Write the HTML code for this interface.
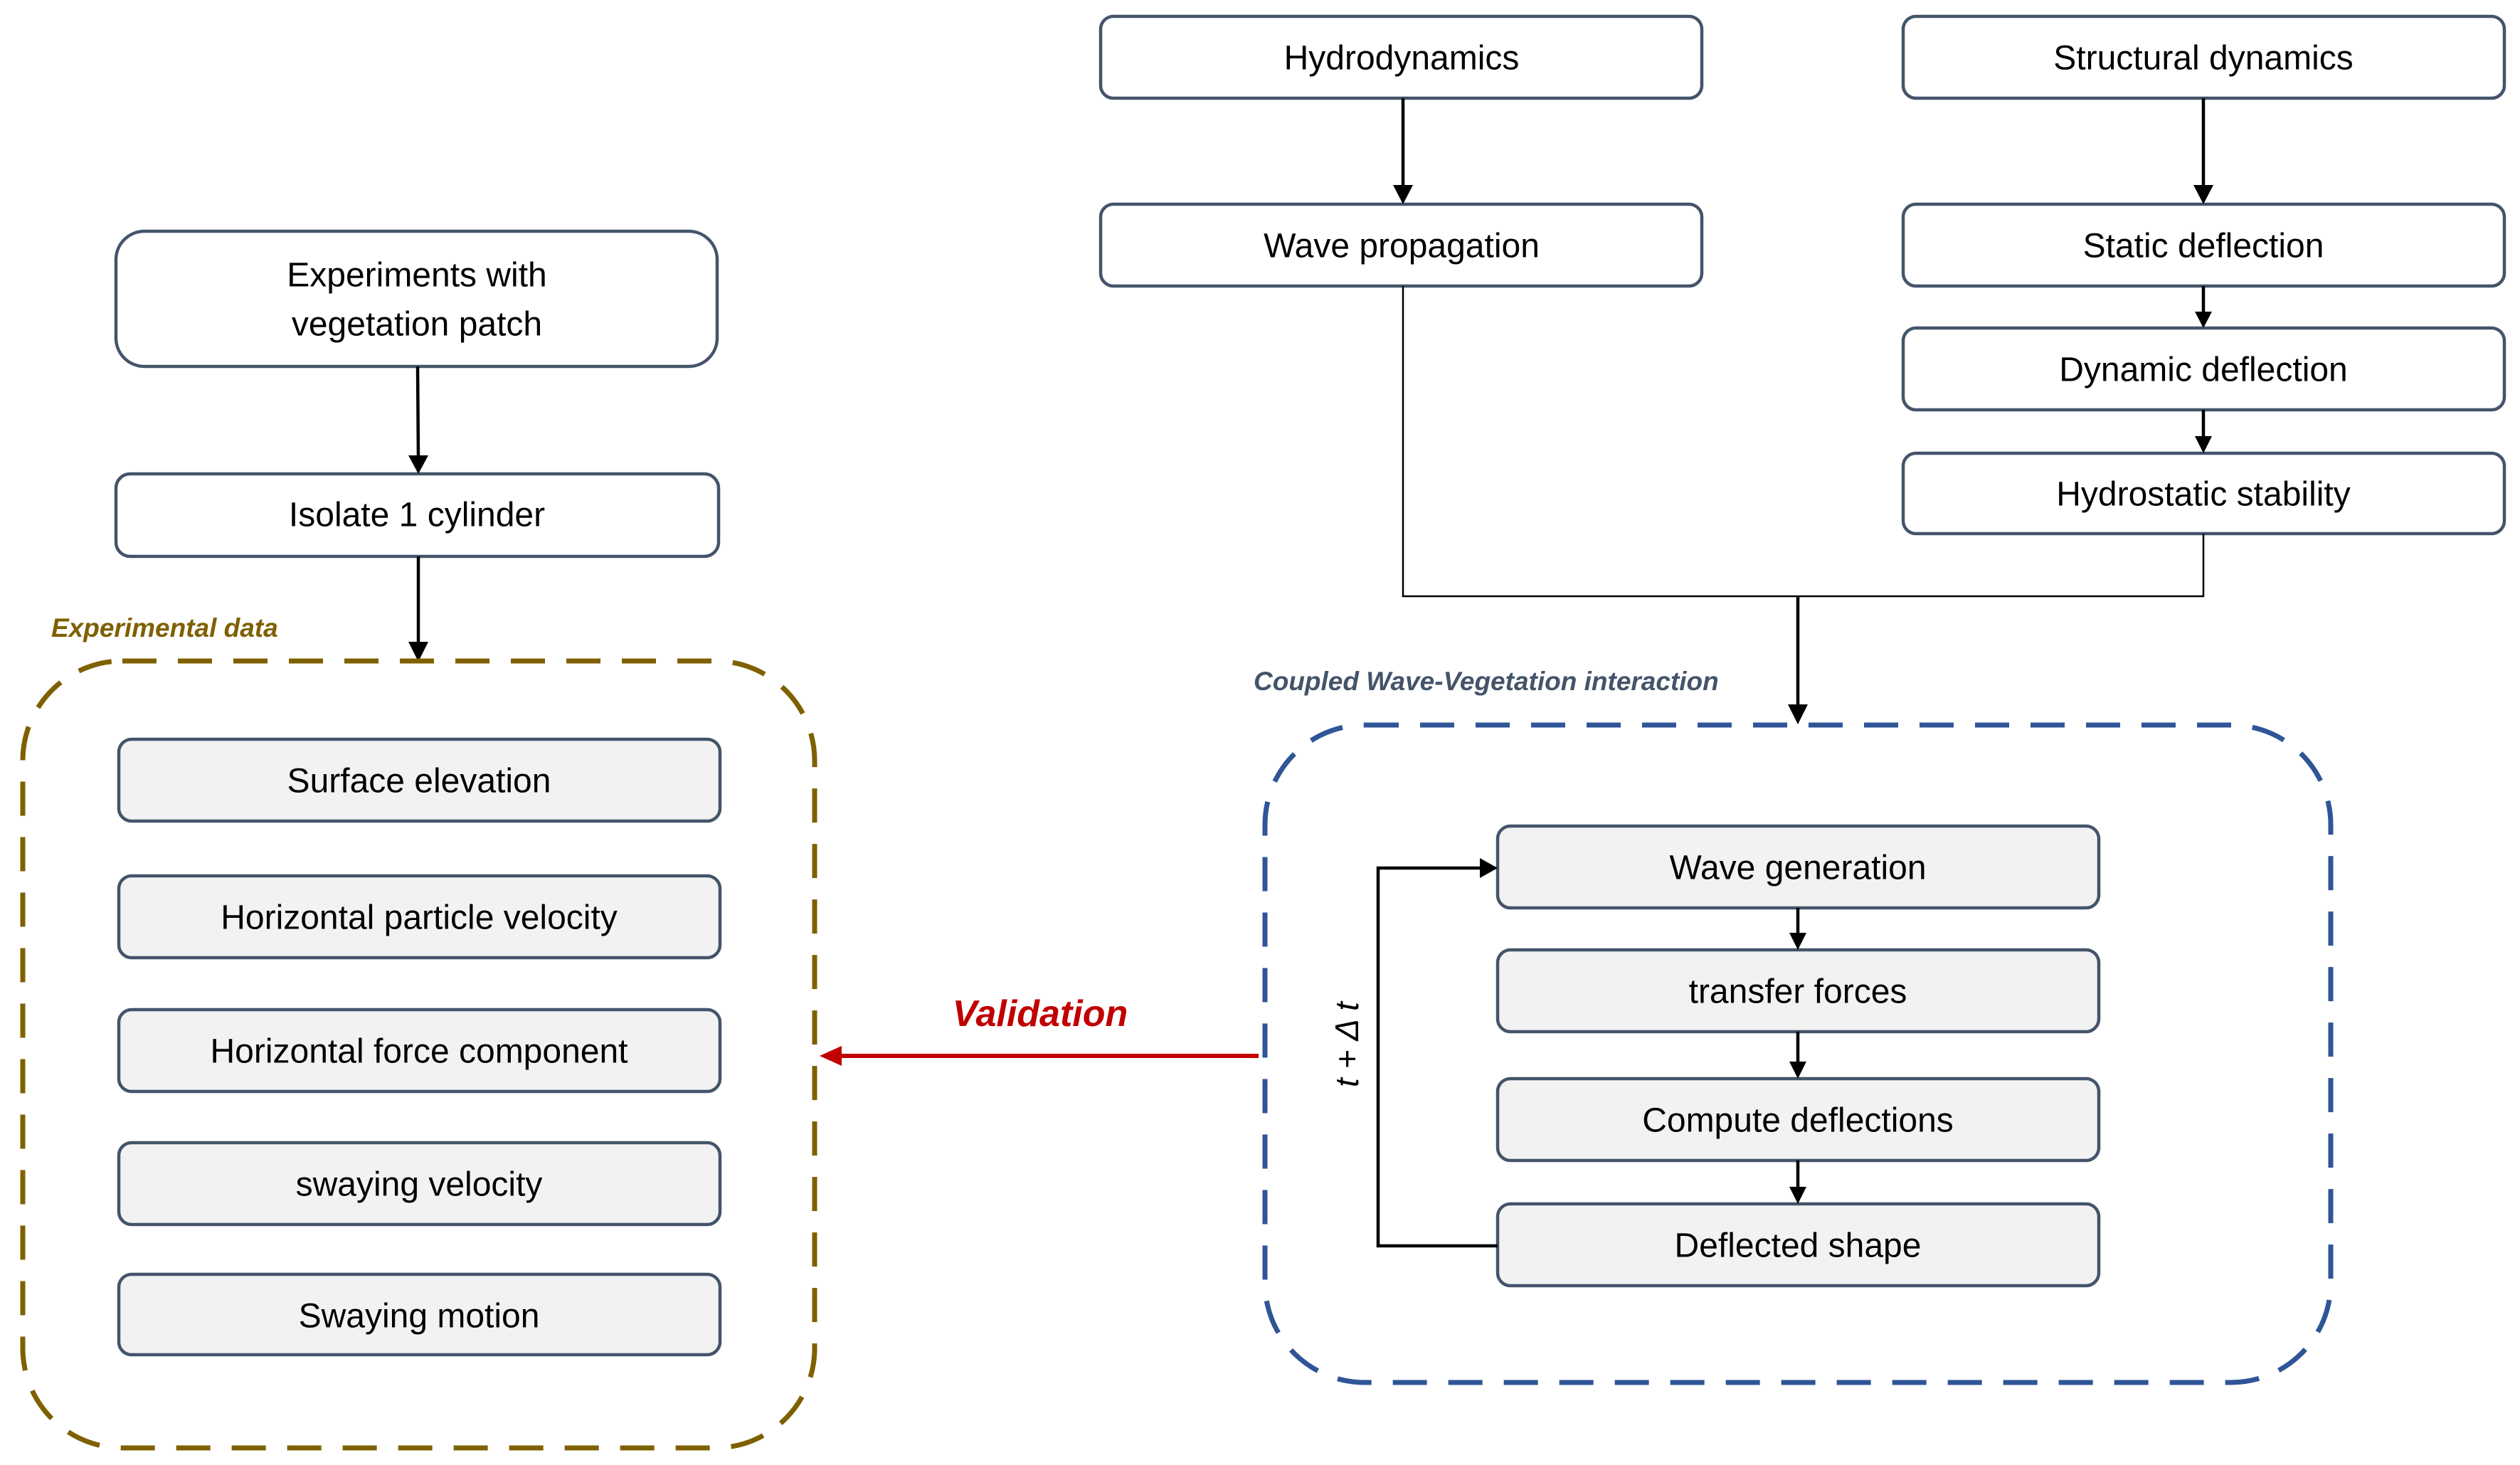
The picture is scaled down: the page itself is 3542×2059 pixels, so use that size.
<!DOCTYPE html>
<html><head><meta charset="utf-8"><style>
html,body{margin:0;padding:0;background:#fff;}
svg{display:block;}
text{font-family:"Liberation Sans",sans-serif;}
.t{font-size:48px;fill:#000;text-anchor:middle;dominant-baseline:central;}
.b{fill:#fff;stroke:#44546a;stroke-width:4.5;}
.g{fill:#f2f2f2;stroke:#44546a;stroke-width:4.5;}
.l{stroke:#000;stroke-width:4.5;fill:none;}
</style></head><body>
<svg width="3542" height="2059" viewBox="0 0 3542 2059" xmlns="http://www.w3.org/2000/svg">

<!-- left column -->
<rect class="b" x="163" y="325" width="845" height="190" rx="40"/>
<text class="t" x="586" y="387">Experiments with</text>
<text class="t" x="586" y="456">vegetation patch</text>
<rect class="b" x="163" y="666" width="847" height="116" rx="20"/>
<text class="t" x="586" y="724">Isolate 1 cylinder</text>
<line class="l" x1="587" y1="515" x2="588" y2="648"/>
<path d="M574,640 L602,640 L588,666z" fill="#000"/>
<line class="l" x1="588" y1="782" x2="588" y2="905"/>
<path d="M574,902 L602,902 L588,930z" fill="#000"/>

<text x="72" y="895" style="font-size:37px;font-weight:bold;font-style:italic;fill:#7f6000">Experimental data</text>
<rect x="32" y="929" width="1113" height="1106" rx="140" fill="none" stroke="#7f6000" stroke-width="7" stroke-dasharray="48,30"/>

<rect class="g" x="167" y="1039" width="845" height="115" rx="18"/>
<text class="t" x="589" y="1098">Surface elevation</text>
<rect class="g" x="167" y="1231" width="845" height="115" rx="18"/>
<text class="t" x="589" y="1290">Horizontal particle velocity</text>
<rect class="g" x="167" y="1419" width="845" height="115" rx="18"/>
<text class="t" x="589" y="1478">Horizontal force component</text>
<rect class="g" x="167" y="1606" width="845" height="115" rx="18"/>
<text class="t" x="589" y="1665">swaying velocity</text>
<rect class="g" x="167" y="1791" width="845" height="113" rx="18"/>
<text class="t" x="589" y="1850">Swaying motion</text>

<!-- validation -->
<text x="1462" y="1442" style="font-size:52px;font-weight:bold;font-style:italic;fill:#c00000;text-anchor:middle">Validation</text>
<line x1="1769" y1="1484" x2="1180" y2="1484" stroke="#c00000" stroke-width="6"/>
<path d="M1183,1470 L1183,1498 L1152,1484z" fill="#c00000"/>

<!-- top right -->
<rect class="b" x="1547" y="23" width="845" height="115" rx="18"/>
<text class="t" x="1970" y="82">Hydrodynamics</text>
<rect class="b" x="1547" y="287" width="845" height="115" rx="18"/>
<text class="t" x="1970" y="346">Wave propagation</text>
<rect class="b" x="2675" y="23" width="845" height="115" rx="18"/>
<text class="t" x="3097" y="82">Structural dynamics</text>
<rect class="b" x="2675" y="287" width="845" height="115" rx="18"/>
<text class="t" x="3097" y="346">Static deflection</text>
<rect class="b" x="2675" y="461" width="845" height="115" rx="18"/>
<text class="t" x="3097" y="520">Dynamic deflection</text>
<rect class="b" x="2675" y="637" width="845" height="113" rx="18"/>
<text class="t" x="3097" y="695">Hydrostatic stability</text>

<line class="l" x1="1972" y1="138" x2="1972" y2="262"/>
<path d="M1958,260 L1986,260 L1972,287z" fill="#000"/>
<line class="l" x1="3097" y1="138" x2="3097" y2="262"/>
<path d="M3083,260 L3111,260 L3097,287z" fill="#000"/>
<line class="l" x1="3097" y1="402" x2="3097" y2="440"/>
<path d="M3085,438 L3109,438 L3097,461z" fill="#000"/>
<line class="l" x1="3097" y1="576" x2="3097" y2="615"/>
<path d="M3085,613 L3109,613 L3097,637z" fill="#000"/>

<path d="M1972,402 V838 H3097 V750" stroke="#000" stroke-width="2.5" fill="none"/>
<line class="l" x1="2527" y1="838" x2="2527" y2="992"/>
<path d="M2513,990 L2541,990 L2527,1018z" fill="#000"/>

<text x="1762" y="970" style="font-size:37px;font-weight:bold;font-style:italic;fill:#44546a">Coupled Wave-Vegetation interaction</text>
<rect x="1778" y="1019" width="1498" height="924" rx="140" fill="none" stroke="#2f5597" stroke-width="7" stroke-dasharray="48,30"/>

<rect class="g" x="2105" y="1161" width="845" height="115" rx="18"/>
<text class="t" x="2527" y="1220">Wave generation</text>
<rect class="g" x="2105" y="1335" width="845" height="115" rx="18"/>
<text class="t" x="2527" y="1394">transfer forces</text>
<rect class="g" x="2105" y="1516" width="845" height="115" rx="18"/>
<text class="t" x="2527" y="1575">Compute deflections</text>
<rect class="g" x="2105" y="1692" width="845" height="115" rx="18"/>
<text class="t" x="2527" y="1751">Deflected shape</text>

<line class="l" x1="2527" y1="1276" x2="2527" y2="1313"/>
<path d="M2515,1311 L2539,1311 L2527,1335z" fill="#000"/>
<line class="l" x1="2527" y1="1450" x2="2527" y2="1494"/>
<path d="M2515,1492 L2539,1492 L2527,1516z" fill="#000"/>
<line class="l" x1="2527" y1="1631" x2="2527" y2="1670"/>
<path d="M2515,1668 L2539,1668 L2527,1692z" fill="#000"/>

<path d="M2105,1751 H1937 V1220 H2082" class="l"/>
<path d="M2080,1206 L2080,1234 L2105,1220z" fill="#000"/>
<text transform="translate(1893,1468) rotate(-90)" style="font-size:46px;font-style:italic;fill:#000;text-anchor:middle;dominant-baseline:central">t + Δ t</text>
</svg>
</body></html>
